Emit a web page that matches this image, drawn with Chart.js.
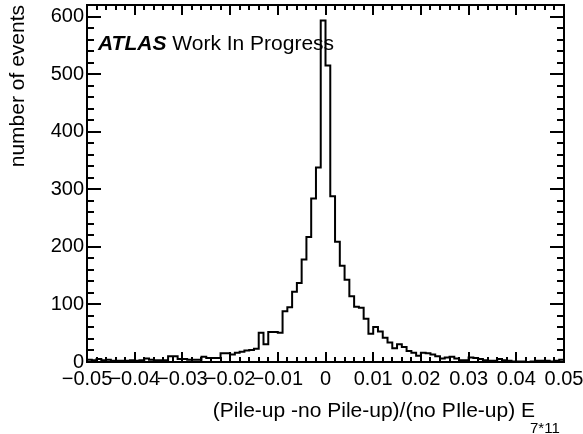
<!DOCTYPE html>
<html>
<head>
<meta charset="utf-8">
<script src="https://cdn.jsdelivr.net/npm/chart.js@4/dist/chart.umd.min.js"></script>
<style>
html, body { margin: 0; padding: 0; background: #fff; }
#wrap { width: 583px; height: 434px; }
</style>
</head>
<body>
<div id="wrap"><canvas id="histo"></canvas></div>
<script>
// E_7*11 pile-up difference, 100 bins between -0.05 and 0.05
var xMin = -0.05;
var xMax = 0.05;
var binWidth = 0.001;
var yMax = 620;

var counts = [
    4, 3, 5, 3, 4, 2, 2, 2, 2, 3,
    2, 3, 6, 4, 3, 3, 3, 10, 10, 5,
    5, 4, 4, 4, 9, 7, 7, 7, 15, 15,
    13, 16, 18, 20, 21, 23, 51, 31, 52, 52,
    51, 88, 95, 122, 137, 178, 217, 284, 338, 593,
    515, 288, 209, 167, 143, 114, 96, 94, 75, 49,
    61, 53, 42, 34, 24, 31, 26, 19, 16, 11,
    16, 15, 13, 10, 6, 8, 9, 6, 3, 3,
    8, 7, 5, 3, 2, 2, 5, 3, 2, 1,
    1, 1, 0, 1, 2, 2, 2, 1, 2, 4
];

var xTicks = [-0.05, -0.04, -0.03, -0.02, -0.01, 0, 0.01, 0.02, 0.03, 0.04, 0.05];
var yTicks = [0, 100, 200, 300, 400, 500, 600];

var FONT = "'Liberation Sans', Arial, Helvetica, sans-serif";

// outline points at bin edges (step drawn to the right of each point)
var outline = [{ x: xMin, y: 0 }];
for (var i = 0; i < counts.length; i++) {
    outline.push({ x: xMin + i * binWidth, y: counts[i] });
}
outline.push({ x: xMin + counts.length * binWidth, y: 0 });

function fmtX(v) {
    var r = Math.round(v * 100) / 100;
    if (r === 0) return '0';
    return (r < 0 ? '\u2212' : '') + Math.abs(r).toFixed(2);
}

// ROOT-like ticks on all four sides, frame and the text labels
var rootFrame = {
    id: 'rootFrame',
    afterDraw: function (chart) {
        var ctx = chart.ctx;
        var a = chart.chartArea;
        var xs = chart.scales.x;
        var ys = chart.scales.y;
        var L = Math.round(a.left), R = Math.round(a.right);
        var T = Math.round(a.top), B = Math.round(a.bottom);

        ctx.save();
        ctx.fillStyle = '#000';

        // ticks: major every 0.01 / 100, minor every 0.002 / 20
        var k, px, py, len;
        for (k = 0; k <= 50; k++) {
            px = Math.round(xs.getPixelForValue(xMin + k * 0.002));
            len = (k % 5 === 0) ? 10 : 5;
            ctx.fillRect(px - 1, B - len, 2, len);
            ctx.fillRect(px - 1, T, 2, len);
        }
        for (k = 0; k * 20 <= yMax; k++) {
            py = Math.round(ys.getPixelForValue(k * 20));
            len = (k % 5 === 0) ? 14 : 7;
            ctx.fillRect(L, py - 1, len, 2);
            ctx.fillRect(R - len, py - 1, len, 2);
        }

        // frame
        ctx.fillRect(L - 1, T - 1, R - L + 2, 2);
        ctx.fillRect(L - 1, B - 1, R - L + 2, 2);
        ctx.fillRect(L - 1, T - 1, 2, B - T + 2);
        ctx.fillRect(R - 1, T - 1, 2, B - T + 2);

        // ATLAS label
        ctx.textBaseline = 'alphabetic';
        ctx.textAlign = 'left';
        ctx.font = 'italic bold 21px ' + FONT;
        ctx.fillText('ATLAS', 98, 50);
        var tw = ctx.measureText('ATLAS ').width;
        ctx.font = '21px ' + FONT;
        ctx.fillText('Work In Progress', 98 + tw, 50);

        // x axis title with subscript
        ctx.textAlign = 'right';
        ctx.fillText('(Pile-up -no Pile-up)/(no PIle-up) E', 535, 417);
        ctx.textAlign = 'left';
        ctx.font = '15px ' + FONT;
        ctx.fillText('7*11', 530, 433);

        // y axis title, right-aligned to the top of the frame
        ctx.save();
        ctx.translate(24, a.top);
        ctx.rotate(-Math.PI / 2);
        ctx.textAlign = 'right';
        ctx.font = '21px ' + FONT;
        ctx.fillText('number of events', 0, 0);
        ctx.restore();

        ctx.restore();
    }
};

new Chart(document.getElementById('histo'), {
    type: 'line',
    data: {
        datasets: [{
            data: outline,
            stepped: 'before',
            borderColor: '#000',
            borderWidth: 2,
            fill: false,
            pointRadius: 0
        }]
    },
    options: {
        responsive: true,
        maintainAspectRatio: false,
        animation: false,
        devicePixelRatio: 1,
        parsing: false,
        layout: { padding: { left: 0, right: 19, top: 5, bottom: 0 } },
        plugins: {
            legend: { display: false },
            tooltip: { enabled: false }
        },
        scales: {
            x: {
                type: 'linear',
                min: xMin,
                max: xMax,
                afterBuildTicks: function (s) {
                    s.ticks = xTicks.map(function (v) { return { value: v }; });
                },
                afterFit: function (s) {
                    s.height = 72;
                    s.paddingLeft = 0;
                    s.paddingRight = 0;
                },
                grid: { display: false, drawTicks: false },
                border: { display: false },
                ticks: {
                    autoSkip: false,
                    maxRotation: 0,
                    padding: 5,
                    color: '#000',
                    font: { family: FONT, size: 20 },
                    callback: fmtX
                }
            },
            y: {
                type: 'linear',
                min: 0,
                max: yMax,
                afterBuildTicks: function (s) {
                    s.ticks = yTicks.map(function (v) { return { value: v }; });
                },
                afterFit: function (s) {
                    s.width = 87;
                    s.paddingTop = 0;
                    s.paddingBottom = 0;
                },
                grid: { display: false, drawTicks: false },
                border: { display: false },
                ticks: {
                    padding: 3,
                    color: '#000',
                    font: { family: FONT, size: 20 }
                }
            }
        }
    },
    plugins: [rootFrame]
});
</script>
</body>
</html>
